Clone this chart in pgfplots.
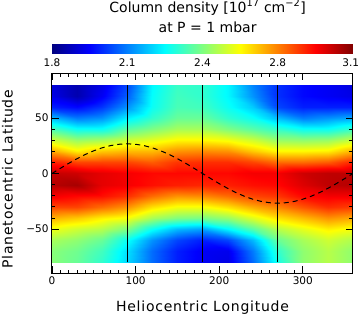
\documentclass[border=0pt]{standalone}
\usepackage{pgfplots}
\pgfplotsset{compat=1.18}
\usepackage{fontspec}
\setmainfont{DejaVu Sans}
\newfontfamily\labelfont{DejaVu Sans}[LetterSpace=5.5]
\begin{document}
\begin{tikzpicture}
\path[use as bounding box] (-52pt,-44.5pt) rectangle (307pt,273.5pt);
\begin{axis}[
  at={(0,0)}, anchor=south west,
  scale only axis, width=301pt, height=200pt,
  xmin=0, xmax=360, ymin=-90, ymax=90,
  xtick={0,100,200,300}, minor x tick num=9,
  ytick={-50,0,50}, yticklabels={−50,0,50}, minor y tick num=4,
  tick align=inside,
  major tick length=7pt, minor tick length=3.5pt,
  every tick/.style={black, line width=0.8pt},
  axis line style={line width=1pt},
  ticklabel style={font=\fontsize{10.5}{12}\selectfont, /pgf/number format/assume math mode=true},
  label style={font=\labelfont\fontsize{14}{16}\selectfont},
  xlabel={Heliocentric Longitude}, ylabel={Planetocentric Latitude},
  xlabel style={at={(axis description cs:0.5,-0.171)}, anchor=center},
  ylabel style={at={(axis description cs:-0.148,0.472)}, anchor=center},
  colormap/jet, point meta min=1.8, point meta max=3.1,
  colorbar horizontal,
  colorbar style={
    at={(parent axis.north west)}, anchor=south west, yshift=29pt,
    scale only axis, width=301pt, height=8.4pt,
    xtick={1.8,2.125,2.45,2.775,3.09},
    xticklabels={1.8,2.1,2.4,2.8,3.1},
    xticklabel pos=lower,
    major tick length=0pt,
    axis line style={draw=none},
    xticklabel style={font=\fontsize{10.5}{12}\selectfont, yshift=-2.5pt},
  },
  title={Column density [10\textsuperscript{17} cm\textsuperscript{−2}]\\at P = 1 mbar},
  title style={at={(axis description cs:0.517,1.258)}, anchor=center, align=center, font=\fontsize{14}{20}\selectfont},
  axis on top,
]
\addplot[surf, shader=interp, mesh/cols=13, point meta=explicit] coordinates {
(0,-80)[2.46] (30,-80)[2.42] (60,-80)[2.35] (90,-80)[2.24] (120,-80)[2.10] (150,-80)[2.00] (180,-80)[1.95] (210,-80)[1.93] (240,-80)[2.10] (270,-80)[2.32] (300,-80)[2.47] (330,-80)[2.52] (360,-80)[2.47]

(0,-70)[2.46] (30,-70)[2.43] (60,-70)[2.37] (90,-70)[2.25] (120,-70)[2.10] (150,-70)[2.00] (180,-70)[1.95] (210,-70)[1.94] (240,-70)[2.12] (270,-70)[2.35] (300,-70)[2.47] (330,-70)[2.52] (360,-70)[2.47]

(0,-60)[2.50] (30,-60)[2.47] (60,-60)[2.42] (90,-60)[2.30] (120,-60)[2.15] (150,-60)[2.05] (180,-60)[2.00] (210,-60)[2.05] (240,-60)[2.20] (270,-60)[2.42] (300,-60)[2.50] (330,-60)[2.55] (360,-60)[2.51]

(0,-50)[2.59] (30,-50)[2.55] (60,-50)[2.52] (90,-50)[2.45] (120,-50)[2.30] (150,-50)[2.20] (180,-50)[2.17] (210,-50)[2.28] (240,-50)[2.40] (270,-50)[2.52] (300,-50)[2.58] (330,-50)[2.63] (360,-50)[2.60]

(0,-40)[2.71] (30,-40)[2.68] (60,-40)[2.63] (90,-40)[2.60] (120,-40)[2.50] (150,-40)[2.45] (180,-40)[2.44] (210,-40)[2.48] (240,-40)[2.57] (270,-40)[2.65] (300,-40)[2.70] (330,-40)[2.75] (360,-40)[2.72]

(0,-30)[2.85] (30,-30)[2.85] (60,-30)[2.80] (90,-30)[2.75] (120,-30)[2.65] (150,-30)[2.60] (180,-30)[2.60] (210,-30)[2.65] (240,-30)[2.72] (270,-30)[2.77] (300,-30)[2.83] (330,-30)[2.88] (360,-30)[2.86]

(0,-20)[2.95] (30,-20)[2.93] (60,-20)[2.92] (90,-20)[2.88] (120,-20)[2.80] (150,-20)[2.75] (180,-20)[2.76] (210,-20)[2.80] (240,-20)[2.85] (270,-20)[2.87] (300,-20)[2.93] (330,-20)[2.95] (360,-20)[2.95]

(0,-10)[3.03] (30,-10)[3.05] (60,-10)[2.97] (90,-10)[2.95] (120,-10)[2.92] (150,-10)[2.90] (180,-10)[2.89] (210,-10)[2.90] (240,-10)[2.92] (270,-10)[2.93] (300,-10)[2.98] (330,-10)[3.02] (360,-10)[3.03]

(0,0)[3.01] (30,0)[3.00] (60,0)[2.97] (90,0)[2.95] (120,0)[2.93] (150,0)[2.93] (180,0)[2.93] (210,0)[2.93] (240,0)[2.95] (270,0)[2.95] (300,0)[3.00] (330,0)[3.02] (360,0)[3.02]

(0,10)[2.90] (30,10)[2.85] (60,10)[2.85] (90,10)[2.85] (120,10)[2.82] (150,10)[2.87] (180,10)[2.88] (210,10)[2.88] (240,10)[2.85] (270,10)[2.80] (300,10)[2.80] (330,10)[2.82] (360,10)[2.89]

(0,20)[2.72] (30,20)[2.63] (60,20)[2.68] (90,20)[2.70] (120,20)[2.70] (150,20)[2.75] (180,20)[2.76] (210,20)[2.75] (240,20)[2.68] (270,20)[2.62] (300,20)[2.62] (330,20)[2.63] (360,20)[2.71]

(0,30)[2.55] (30,30)[2.48] (60,30)[2.50] (90,30)[2.55] (120,30)[2.58] (150,30)[2.62] (180,30)[2.62] (210,30)[2.60] (240,30)[2.55] (270,30)[2.48] (300,30)[2.47] (330,30)[2.48] (360,30)[2.54]

(0,40)[2.38] (30,40)[2.30] (60,40)[2.30] (90,40)[2.40] (120,40)[2.45] (150,40)[2.50] (180,40)[2.50] (210,40)[2.45] (240,40)[2.40] (270,40)[2.35] (300,40)[2.30] (330,40)[2.30] (360,40)[2.36]

(0,50)[2.20] (30,50)[2.12] (60,50)[2.15] (90,50)[2.27] (120,50)[2.35] (150,50)[2.42] (180,50)[2.42] (210,50)[2.35] (240,50)[2.30] (270,50)[2.20] (300,50)[2.12] (330,50)[2.15] (360,50)[2.18]

(0,60)[2.00] (30,60)[1.97] (60,60)[2.03] (90,60)[2.15] (120,60)[2.30] (150,60)[2.38] (180,60)[2.37] (210,60)[2.30] (240,60)[2.22] (270,60)[2.05] (300,60)[2.00] (330,60)[2.00] (360,60)[2.00]

(0,70)[1.93] (30,70)[1.86] (60,70)[1.95] (90,70)[2.08] (120,70)[2.29] (150,70)[2.37] (180,70)[2.35] (210,70)[2.28] (240,70)[2.15] (270,70)[2.02] (300,70)[1.97] (330,70)[1.95] (360,70)[1.93]

(0,80)[1.92] (30,80)[1.86] (60,80)[1.93] (90,80)[2.05] (120,80)[2.28] (150,80)[2.36] (180,80)[2.35] (210,80)[2.28] (240,80)[2.13] (270,80)[2.02] (300,80)[1.97] (330,80)[1.95] (360,80)[1.92]
};
\addplot[black, line width=1pt] coordinates {(90,-80) (90,80)};
\addplot[black, line width=1pt] coordinates {(180,-80) (180,80)};
\addplot[black, line width=1pt] coordinates {(270,-80) (270,80)};
\addplot[black, line width=1pt, dash pattern=on 5pt off 4pt] coordinates {
(0,0) (10,4.64) (20,9.13) (30,13.35) (40,17.16) (50,20.45) (60,23.12) (70,25.09) (80,26.29) (90,26.7)
(100,26.29) (110,25.09) (120,23.12) (130,20.45) (140,17.16) (150,13.35) (160,9.13) (170,4.64) (180,0)
(190,-4.64) (200,-9.13) (210,-13.35) (220,-17.16) (230,-20.45) (240,-23.12) (250,-25.09) (260,-26.29) (270,-26.7)
(280,-26.29) (290,-25.09) (300,-23.12) (310,-20.45) (320,-17.16) (330,-13.35) (340,-9.13) (350,-4.64) (360,0)
};
\end{axis}
\end{tikzpicture}
\end{document}
